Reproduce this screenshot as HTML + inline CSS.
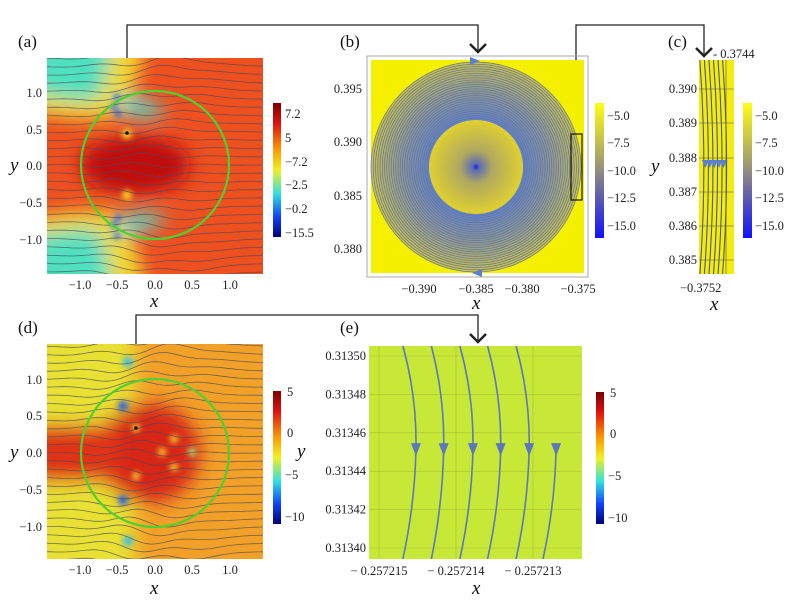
<!DOCTYPE html>
<html><head><meta charset="utf-8"><style>
body{margin:0;background:#fff}
svg{display:block;font-family:"Liberation Serif",serif}
.t{font-size:12.5px;fill:#222}
.lab{font-size:17px;fill:#111}
.ax{font-size:19px;font-style:italic;fill:#111}
</style></head><body>
<svg id="fig" width="799" height="603" viewBox="0 0 799 603">
<defs>
<filter id="bl" x="-50%" y="-50%" width="200%" height="200%"><feGaussianBlur stdDeviation="9"/></filter>
<filter id="bl2" x="-50%" y="-50%" width="200%" height="200%"><feGaussianBlur stdDeviation="3"/></filter>
<clipPath id="ca"><rect x="47" y="58" width="216" height="216"/></clipPath>
<clipPath id="cd"><rect x="47" y="344" width="216" height="215"/></clipPath>
<clipPath id="cc"><rect x="699" y="60" width="35" height="214"/></clipPath>
<linearGradient id="jet" x1="0" y1="0" x2="0" y2="1">
<stop offset="0" stop-color="#7a0000"/><stop offset="0.15" stop-color="#e01010"/><stop offset="0.35" stop-color="#ff9a00"/><stop offset="0.5" stop-color="#f0f020"/><stop offset="0.68" stop-color="#30e0e0"/><stop offset="0.85" stop-color="#1040ff"/><stop offset="1" stop-color="#00007a"/></linearGradient>
<linearGradient id="yb" x1="0" y1="0" x2="0" y2="1">
<stop offset="0" stop-color="#ffff10"/><stop offset="0.45" stop-color="#a09a70"/><stop offset="1" stop-color="#1010ff"/></linearGradient>
<radialGradient id="ring" cx="476" cy="167" r="105" gradientUnits="userSpaceOnUse">
<stop offset="0.45" stop-color="#6080d0"/><stop offset="0.7" stop-color="#8a94a0"/><stop offset="1" stop-color="#c8c050"/></radialGradient>
<radialGradient id="core" cx="476" cy="167" r="47" gradientUnits="userSpaceOnUse">
<stop offset="0" stop-color="#2020e0"/><stop offset="0.08" stop-color="#6070b0"/><stop offset="0.35" stop-color="#b0a860"/><stop offset="1" stop-color="#e0d030"/></radialGradient>
</defs>

<g fill="none" stroke="#222" stroke-width="1.3">
<path d="M127 123 V25 H478 V50"/><path d="M470 44 L478 52 L486 44" stroke-width="2.5"/>
<path d="M576 134 V25 H704 V54"/><path d="M696 48 L704 56 L712 48" stroke-width="2.5"/>
<path d="M136 428 V315 H478 V340"/><path d="M470 334 L478 342 L486 334" stroke-width="2.5"/>
</g>

<g>
<text class="lab" x="18" y="47">(a)</text>
<g clip-path="url(#ca)">
<rect x="47" y="58" width="216" height="216" fill="#ee5020"/>
<g filter="url(#bl)">
<path d="M30 40 H145 Q135 105 115 118 Q80 122 30 112 Z" fill="#f0d830"/>
<path d="M30 40 H112 Q105 95 95 100 Q65 102 30 92 Z" fill="#50e0c0"/>
<path d="M118 95 Q150 98 168 112 Q145 122 120 112 Z" fill="#50e0d0"/>
<path d="M30 290 H145 Q135 225 115 212 Q80 208 30 218 Z" fill="#f0d830"/>
<path d="M30 290 H112 Q105 235 95 230 Q65 228 30 238 Z" fill="#50e0c0"/>
<path d="M118 235 Q150 232 168 218 Q145 208 120 218 Z" fill="#50e0d0"/>
<ellipse cx="135" cy="165" rx="55" ry="30" fill="#c01010"/>
</g>
<g filter="url(#bl2)" fill="#1050ff">
<circle cx="117" cy="97" r="3"/><circle cx="114" cy="107" r="3"/><circle cx="118" cy="114" r="3"/>
<circle cx="117" cy="236" r="3"/><circle cx="114" cy="225" r="3"/><circle cx="118" cy="218" r="3"/>
</g>
<g filter="url(#bl2)" fill="#f8d820"><circle cx="127" cy="134" r="5"/><circle cx="127" cy="195" r="5"/></g>
<g id="sa" fill="none" stroke="#4a4a5a" stroke-width="0.8" opacity="0.75"></g>
<circle cx="155" cy="165" r="74" fill="none" stroke="#50d030" stroke-width="2.2"/>
<circle cx="127" cy="133" r="1.8" fill="#111"/>
</g>
<rect x="273" y="103" width="8" height="134" fill="url(#jet)"/>
<g class="t">
<text x="285" y="118">7.2</text><text x="285" y="142">5</text><text x="285" y="166">−7.2</text><text x="285" y="189">−2.5</text><text x="285" y="213">−0.2</text><text x="285" y="237">−15.5</text></g>
<g class="t" text-anchor="end">
<text x="42" y="97">1.0</text><text x="42" y="134">0.5</text><text x="42" y="170">0.0</text><text x="42" y="207">−0.5</text><text x="42" y="244">−1.0</text></g>
<g class="t" text-anchor="middle">
<text x="80" y="289">−1.0</text><text x="117" y="289">−0.5</text><text x="155" y="289">0.0</text><text x="192" y="289">0.5</text><text x="230" y="289">1.0</text></g>
<text class="ax" x="150" y="307">x</text>
<text class="ax" x="10" y="171">y</text>
</g>

<g>
<text class="lab" x="340" y="47">(b)</text>
<rect x="367" y="56" width="221" height="221" fill="none" stroke="#aaa" stroke-width="1"/>
<rect x="371" y="60" width="213" height="213" fill="#f4f000"/>
<circle cx="476" cy="167" r="105" fill="url(#ring)"/>
<g id="rings" fill="none" stroke="#66788c" stroke-width="0.7"></g>
<circle cx="476" cy="167" r="47" fill="url(#core)"/>
<path d="M470 57 L480 61 L470 65 Z" fill="#5a80d0"/><path d="M482 269 L472 273 L482 277 Z" fill="#5a80d0"/>
<rect x="571" y="134" width="11" height="66" fill="none" stroke="#111" stroke-width="1.2"/>
<rect x="595" y="103" width="9" height="135" fill="url(#yb)"/>
<g class="t">
<text x="607" y="120">−5.0</text><text x="607" y="147">−7.5</text><text x="607" y="175">−10.0</text><text x="607" y="202">−12.5</text><text x="607" y="230">−15.0</text></g>
<g class="t" text-anchor="end">
<text x="362" y="93">0.395</text><text x="362" y="146">0.390</text><text x="362" y="200">0.385</text><text x="362" y="253">0.380</text></g>
<g class="t" text-anchor="middle">
<text x="419" y="293">−0.390</text><text x="476" y="293">−0.385</text><text x="522" y="293">−0.380</text><text x="578" y="293">−0.375</text></g>
<text class="ax" x="472" y="309">x</text>
</g>

<g>
<text class="lab" x="668" y="47">(c)</text>
<rect x="699" y="60" width="35" height="214" fill="#f4ec10"/>
<g clip-path="url(#cc)">
<g stroke="#555" stroke-width="0.6"><line x1="699" y1="89" x2="734" y2="89"/><line x1="699" y1="123" x2="734" y2="123"/><line x1="699" y1="158" x2="734" y2="158"/><line x1="699" y1="192" x2="734" y2="192"/><line x1="699" y1="226" x2="734" y2="226"/><line x1="699" y1="260" x2="734" y2="260"/><line x1="726" y1="60" x2="726" y2="274"/></g>
<g id="cl" fill="none" stroke="#4a5a80" stroke-width="1.1"></g>
</g>
<g class="t" text-anchor="end">
<text x="697" y="93">0.390</text><text x="697" y="127">0.389</text><text x="697" y="162">0.388</text><text x="697" y="196">0.387</text><text x="697" y="230">0.386</text><text x="697" y="264">0.385</text></g>
<text class="t" x="713" y="58">- 0.3744</text>
<text class="t" x="680" y="292">−0.3752</text>
<text class="ax" x="710" y="310">x</text>
<text class="ax" x="651" y="172">y</text>
<rect x="743" y="103" width="9" height="135" fill="url(#yb)"/>
<g class="t">
<text x="755" y="120">−5.0</text><text x="755" y="147">−7.5</text><text x="755" y="175">−10.0</text><text x="755" y="202">−12.5</text><text x="755" y="230">−15.0</text></g>
</g>

<g>
<text class="lab" x="18" y="333">(d)</text>
<g clip-path="url(#cd)">
<rect x="47" y="344" width="216" height="215" fill="#f2a028"/>
<g filter="url(#bl)">
<path d="M30 330 H135 V440 Q90 420 30 430 Z" fill="#e8e030"/>
<path d="M30 580 H135 V470 Q90 490 30 480 Z" fill="#e8e030"/>
<ellipse cx="148" cy="453" rx="52" ry="50" fill="#d82818"/>
<rect x="30" y="425" width="90" height="56" fill="#e03018"/>
</g>
<g filter="url(#bl2)">
<circle cx="128" cy="362" r="5" fill="#30c0f0"/><circle cx="123" cy="406" r="5" fill="#2060f0"/><circle cx="123" cy="500" r="5" fill="#2060f0"/><circle cx="128" cy="541" r="5" fill="#30c0f0"/>
<circle cx="136" cy="428" r="4" fill="#f8d830"/><circle cx="136" cy="476" r="4" fill="#f8d830"/><circle cx="174" cy="439" r="4" fill="#f8d830"/><circle cx="174" cy="467" r="4" fill="#f8d830"/><circle cx="162" cy="452" r="4" fill="#f8d830"/><circle cx="192" cy="452" r="4" fill="#a0f080"/>
</g>
<g id="sd" fill="none" stroke="#4a4a5a" stroke-width="0.8" opacity="0.75"></g>
<circle cx="155" cy="453" r="74" fill="none" stroke="#50d030" stroke-width="2.2"/>
<circle cx="136" cy="428" r="1.8" fill="#111"/>
</g>
<rect x="273" y="391" width="8" height="133" fill="url(#jet)"/>
<g class="t">
<text x="287" y="396">5</text><text x="287" y="437">0</text><text x="285" y="479">−5</text><text x="285" y="521">−10</text></g>
<text class="ax" x="297" y="457">y</text>
<g class="t" text-anchor="end">
<text x="42" y="384">1.0</text><text x="42" y="420">0.5</text><text x="42" y="457">0.0</text><text x="42" y="494">−0.5</text><text x="42" y="531">−1.0</text></g>
<g class="t" text-anchor="middle">
<text x="80" y="574">−1.0</text><text x="117" y="574">−0.5</text><text x="155" y="574">0.0</text><text x="192" y="574">0.5</text><text x="230" y="574">1.0</text></g>
<text class="ax" x="150" y="594">x</text>
<text class="ax" x="10" y="458">y</text>
</g>

<g>
<text class="lab" x="340" y="333">(e)</text>
<rect x="369" y="346" width="213" height="213" fill="#c8e838"/>
<g id="egrid" stroke="#a8c030" stroke-width="0.6"></g>
<g id="el"></g>
<g id="eyt" class="t" text-anchor="end"></g>
<g id="ext" class="t" text-anchor="middle"></g>
<text class="ax" x="472" y="594">x</text>
<rect x="596" y="392" width="8" height="132" fill="url(#jet)"/>
<g class="t">
<text x="610" y="397">5</text><text x="610" y="438">0</text><text x="608" y="480">−5</text><text x="608" y="522">−10</text></g>
</g>
</svg>
<script>
// panel e data
const eYTicks=[0.31350,0.31348,0.31346,0.31344,0.31342,0.31340];
const eXTicks=[-0.257215,-0.257214,-0.257213];
const eLineMid=[-0.25721452,-0.25721416,-0.25721378,-0.25721342,-0.25721305,-0.25721270];
const eLineOffset=[0.00000017,0.00000016,0.00000017,0.00000017,0.00000017,0.00000017];
const eArrowY=0.313452;
// panel c data
const cLineMid=[0.9,1.6,2.3,3.0,3.7,4.4];
// panel b spiral ring count
const bRings=26;

const NS="http://www.w3.org/2000/svg";
function mk(t,a,p){const e=document.createElementNS(NS,t);for(const k in a)e.setAttribute(k,a[k]);p.appendChild(e);return e;}
const ex=v=>379+(v+0.257215)*77e6;
const ey=v=>356+(0.31350-v)/0.00002*38.4;

const eg=document.getElementById('egrid');
eYTicks.forEach(v=>{mk('line',{x1:369,x2:582,y1:ey(v),y2:ey(v)},eg);
 const t=mk('text',{x:366,y:ey(v)+4},document.getElementById('eyt'));t.textContent=v.toFixed(5);
 
 });
eXTicks.forEach(v=>{mk('line',{x1:ex(v),x2:ex(v),y1:346,y2:559},eg);
 const t=mk('text',{x:ex(v),y:575},document.getElementById('ext'));t.textContent='− '+Math.abs(v).toFixed(6);
 
 });
const el=document.getElementById('el');
eLineMid.forEach((v,i)=>{const xm=ex(v),xe=ex(v-eLineOffset[i]),ym=ey(eArrowY);
 const top=i==5?ym:346;
 const p=mk('path',{d:(i==5?`M${xm} ${ym}`:`M${xe} ${top} Q${xm+1} ${(top+ym)/2} ${xm} ${ym}`)+` Q${xm-1} ${(ym+559)/2} ${xe} 559`,fill:'none',stroke:'#5a78c0','stroke-width':1.6},el);
 
 
 const a=mk('path',{d:`M${xm-5} ${ym-5} L${xm+5} ${ym-5} L${xm} ${ym+8} Z`,fill:'#5a78c0'},el);
 
 });

// panel c
const cl=document.getElementById('cl');
cLineMid.forEach((v,i)=>{const xm=699+v*6.5;
 const p=mk('path',{d:`M${xm-5} 60 Q${xm+3} 167 ${xm-5} 274`},cl);
 
 
 if(i<5){const a=mk('path',{d:`M${xm-3} 160 L${xm+4} 160 L${xm+0.5} 168 Z`,fill:'#5a80d0',stroke:'none'},cl);
 
 }});

// panel b rings
const rg=document.getElementById('rings');
for(let i=0;i<bRings;i++){mk('circle',{cx:476,cy:167,r:49+i*(56/(bRings-1))},rg);}

// streamlines (decorative) for a and d
function streams(id,cy,wig){const g=document.getElementById(id);
 for(let k=-13;k<=13;k++){const y0=cy+k*8.2;let d='';
  for(let x=47;x<=263;x+=4){const dx=(x-140)/60;const s=Math.exp(-dx*dx);
   const q=(x-175)/50;
   const y=y0+wig*Math.sin(k*0.8+x/12)*s+(k*2.2)*Math.exp(-(q*q))*0.3;
   d+=(x==47?'M':'L')+x+' '+y.toFixed(1);}
  mk('path',{d},g);}}
streams('sa',165,3);streams('sd',453,4);
</script>
</body></html>
